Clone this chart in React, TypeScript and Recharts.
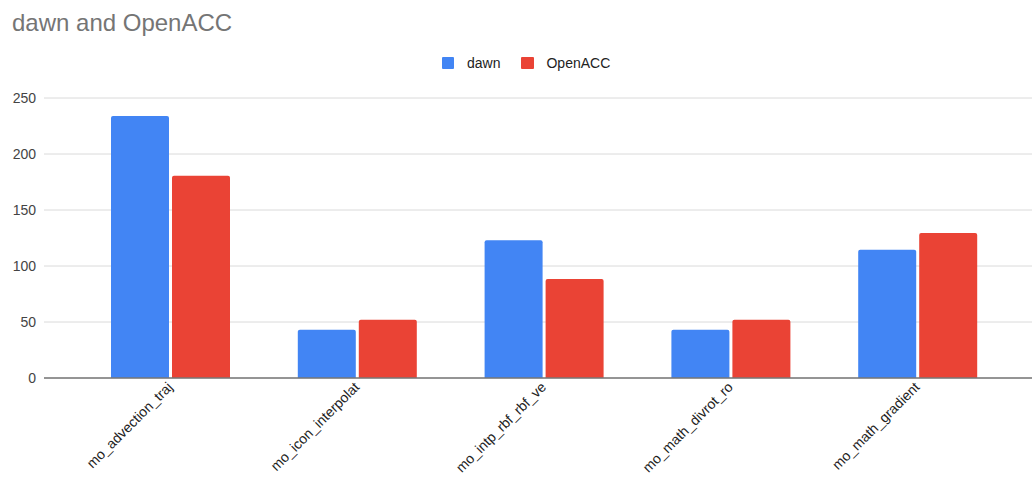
import { BarChart, Bar, CartesianGrid, XAxis, YAxis } from "recharts";

const categories = [
  "mo_advection_traj",
  "mo_icon_interpolat",
  "mo_intp_rbf_rbf_ve",
  "mo_math_divrot_ro",
  "mo_math_gradient",
];
const dawn = [234, 43, 123, 43, 114.5];
const openAcc = [180.5, 52, 88.5, 52, 129.5];
const yTicks = [0, 50, 100, 150, 200, 250];

const BLUE = "#4285F4";
const RED = "#EA4335";
const FONT = "'Liberation Sans', Arial, sans-serif";

const data = categories.map((name, i) => ({ name, dawn: dawn[i], OpenACC: openAcc[i] }));

// category names slanted at 45°, ending just below the tick
const SlantTick = (props: any) => {
  const { x, y, payload } = props;
  const ax = x + 3;
  const ay = y + 2;
  return (
    <text
      x={ax}
      y={ay}
      transform={`rotate(-45, ${ax}, ${ay})`}
      textAnchor="end"
      fontSize={14}
      fontFamily={FONT}
      fill="#222"
    >
      {payload.value}
    </text>
  );
};

const LegendRow = () => (
  <div
    style={{
      position: "absolute",
      top: 57,
      left: 442,
      display: "flex",
      alignItems: "center",
      fontFamily: FONT,
      fontSize: 14,
      color: "#222",
      lineHeight: "12px",
    }}
  >
    <span style={{ width: 12, height: 12, background: BLUE, borderRadius: 1, display: "inline-block" }} />
    <span style={{ marginLeft: 13 }}>dawn</span>
    <span style={{ width: 13, height: 12, background: RED, borderRadius: 1, display: "inline-block", marginLeft: 21 }} />
    <span style={{ marginLeft: 12 }}>OpenACC</span>
  </div>
);

export default function App() {
  return (
    <div style={{ position: "relative", width: 1032, height: 485, background: "#fff" }}>
      <style>{"body{margin:0}"}</style>
      <div
        style={{
          position: "absolute",
          left: 12,
          top: 9,
          fontFamily: FONT,
          fontSize: 24,
          color: "#757575",
          lineHeight: "28px",
        }}
      >
        dawn and OpenACC
      </div>
      <LegendRow />
      <BarChart
        width={1032}
        height={485}
        data={data}
        margin={{ top: 98, right: 0, left: 0, bottom: 0 }}
        barGap={3}
        barSize={58}
      >
        <CartesianGrid vertical={false} stroke="#dadada" strokeWidth={1} />
        <XAxis
          dataKey="name"
          height={107}
          padding={{ left: 33, right: 21 }}
          axisLine={{ stroke: "#777", strokeWidth: 1.5 }}
          tickLine={false}
          interval={0}
          tick={<SlantTick />}
        />
        <YAxis
          width={44}
          domain={[0, 250]}
          ticks={yTicks}
          axisLine={false}
          tickLine={false}
          tick={{ fontSize: 14, fontFamily: FONT, fill: "#444" }}
        />
        <Bar dataKey="dawn" fill={BLUE} radius={[2, 2, 0, 0]} isAnimationActive={false} />
        <Bar dataKey="OpenACC" fill={RED} radius={[2, 2, 0, 0]} isAnimationActive={false} />
      </BarChart>
    </div>
  );
}
